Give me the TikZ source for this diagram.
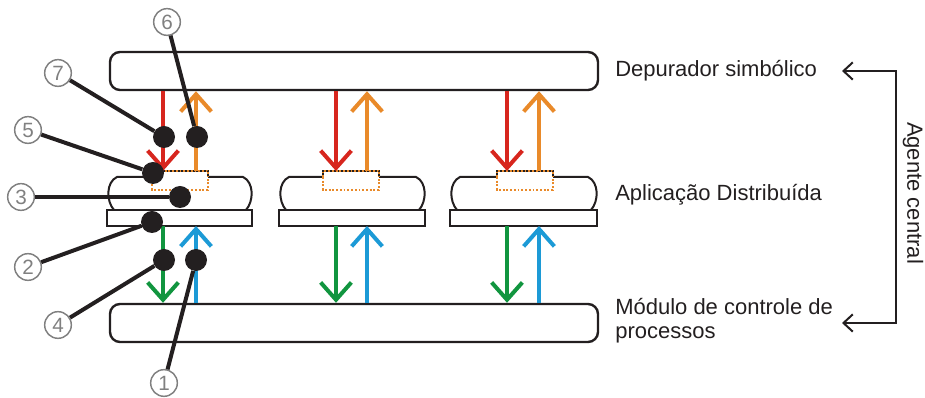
\documentclass[tikz,border=0pt]{standalone}
\usepackage{fontspec}
\setmainfont{Liberation Sans}
\usetikzlibrary{arrows.meta}
\definecolor{cred}{HTML}{D7261E}
\definecolor{corange}{HTML}{E98A2A}
\definecolor{cgreen}{HTML}{11953F}
\definecolor{cblue}{HTML}{1C9AD6}
\definecolor{cgray}{HTML}{808080}
\definecolor{ctext}{HTML}{231F20}
\tikzset{
  layerbox/.style={draw=ctext, line width=1.8pt, rounded corners=7.5pt, fill=white},
  capline/.style={draw=ctext, line width=1.5pt},
  basebox/.style={draw=ctext, line width=1.7pt, fill=white},
  flow/.style={line width=3pt, -{Straight Barb[length=13pt,width=23pt]}},
  slot/.style={draw=corange, line width=1.3pt, dash pattern=on 1.4pt off 1.4pt},
  slottop/.style={draw=ctext, line width=1.3pt, dash pattern=on 1.4pt off 1.4pt, dash phase=1.4pt},
  num/.style={circle, draw=cgray, line width=1.1pt, fill=white, text=cgray,
    minimum size=20pt, inner sep=0pt, font=\fontsize{15.5}{15.5}\selectfont},
  pin/.style={circle, fill=ctext, minimum size=16.5pt, inner sep=0pt},
  leader/.style={draw=ctext, line width=3pt},
  label/.style={anchor=west, text=ctext, font=\fontsize{16.5}{18}\selectfont, inner sep=0pt},
  bracket/.style={draw=ctext, line width=1.5pt, {Straight Barb[length=7pt,width=13pt]}-{Straight Barb[length=7pt,width=13pt]}}
}
\begin{document}
\begin{tikzpicture}[x=0.75pt, y=-0.75pt]
\useasboundingbox (0,0) rectangle (925,398);

% the two long layers
\node[layerbox, minimum width=366pt, minimum height=28.5pt] (dep) at (354,71) {};
\node[layerbox, minimum width=366pt, minimum height=28.5pt] (mod) at (354,323) {};

% the three application processes
\foreach \i/\xa/\xb/\bl/\rx/\ox in {1/110/250/152/163/196, 2/282/423/323/336/367, 3/453/595/497/507/539}{
  \pgfmathsetmacro{\br}{\bl+56}
  % base plate
  \draw[basebox] (\xa-3,210) rectangle (\xb+2,226);
  % cap with its bulging sides
  \draw[capline] (\xa+4,210) .. controls (\xa-4,201) and (\xa-4,182) .. (\xa+7,177) -- (\bl,177);
  \draw[capline] (\br,177) -- (\xb-7,177) .. controls (\xb+4,182) and (\xb+4,201) .. (\xb-4,210);
  % instrumented slot
  \draw[slot] (\bl,177) -- (\bl,190) -- (\br,190) -- (\br,177);
  \draw[slot] (\bl,177) -- (\bl,171) -- (\br,171) -- (\br,177);
  \draw[slottop] (\bl,177) -- (\bl,171) -- (\br,171) -- (\br,177);
  \coordinate (in\i) at (\rx,171);
  \coordinate (out\i) at (\ox,171);
  \coordinate (dn\i) at (\rx,226);
  \coordinate (up\i) at (\ox,226);
  % message flows
  \draw[flow, cred] (dep.south -| in\i) -- (in\i);
  \draw[flow, corange] (out\i) -- (dep.south -| out\i);
  \draw[flow, cgreen] (dn\i) -- (mod.north -| dn\i);
  \draw[flow, cblue] (mod.north -| up\i) -- (up\i);
}

% numbered callouts
\foreach \n/\cx/\cy/\px/\py in {6/167/22/197/137, 7/58/73/164/137, 5/28/130/153/173,
  3/21/197/180/197, 2/28/267/152/222, 4/58/325/164/260, 1/164/383/196/260}{
  \node[pin] (p\n) at (\px,\py) {};
  \node[num] (c\n) at (\cx,\cy) {\n};
  \draw[leader] (c\n) -- (p\n);
}

% layer names
\node[label] (tdep) at (615,71) {Depurador simbólico};
\node[label] (tapp) at (615,195) {Aplicação Distribuída};
\node[label, align=left] (tmod) at (615,321) {Módulo de controle de\\processos};

% central agent bracket
\coordinate (ta) at (842,71);
\coordinate (tb) at (842,323);
\coordinate (ka) at (896,71);
\coordinate (kb) at (896,323);
\draw[bracket] (ta) -- (ka) -- (kb) -- (tb);
\node[text=ctext, font=\fontsize{16.5}{18}\selectfont, rotate=-90, inner sep=0pt] (tag) at (913,193) {Agente central};
\end{tikzpicture}
\end{document}
